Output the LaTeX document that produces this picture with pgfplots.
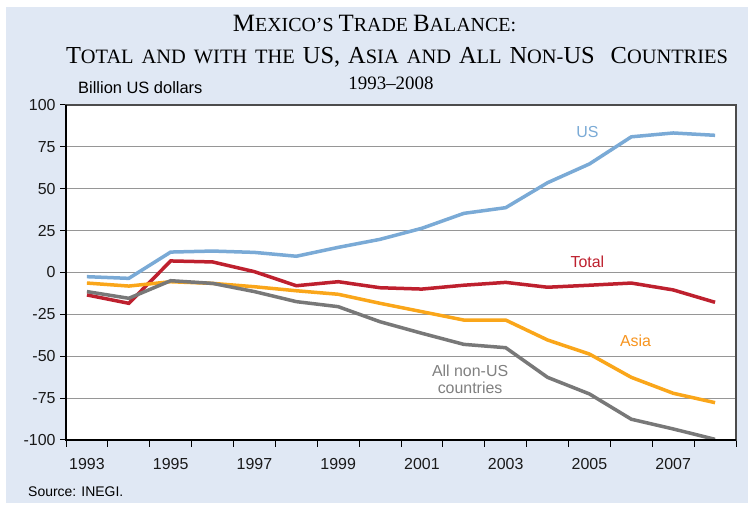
\documentclass[border=0pt]{standalone}
\usepackage{pgfplots}
\pgfplotsset{compat=1.18}
\usepackage{fontspec}
\setmainfont{Liberation Serif}
\newfontfamily\arial{Liberation Sans}
\definecolor{bgblue}{RGB}{224,232,244}
\definecolor{usblue}{RGB}{122,170,214}
\definecolor{totred}{RGB}{190,32,46}
\definecolor{asiaor}{RGB}{250,166,26}
\definecolor{asiatxt}{RGB}{247,148,30}
\definecolor{nongray}{RGB}{120,120,120}
\definecolor{nontxt}{RGB}{128,128,128}
\definecolor{gridgray}{RGB}{150,150,150}
\newcommand{\BC}[1]{{\fontsize{25}{27}\selectfont #1}}
\newcommand{\SC}[1]{{\fontsize{20}{22}\selectfont #1}}
\newcommand{\BCb}[1]{{\fontsize{24.5}{26}\selectfont #1}}
\newcommand{\SCb}[1]{{\fontsize{20.5}{22}\selectfont #1}}
\pgfplotstableread{
year us total asia nonus
1993 -2.5 -13.4 -6.3 -11.4
1994 -3.5 -18.4 -8.1 -15.4
1995 12.2 6.9 -5.5 -4.9
1996 12.8 6.3 -6.5 -6.5
1997 12.0 0.5 -8.5 -11.4
1998 9.7 -7.9 -10.9 -17.4
1999 15.0 -5.5 -13.0 -20.4
2000 19.8 -9.1 -18.4 -29.4
2001 26.4 -9.9 -23.4 -36.3
2002 35.3 -7.6 -28.4 -42.9
2003 38.7 -5.9 -28.4 -44.9
2004 53.6 -8.8 -40.3 -62.6
2005 64.8 -7.6 -48.7 -72.5
2006 81.0 -6.3 -62.6 -87.6
2007 83.3 -10.4 -72.1 -93.4
2008 81.9 -17.8 -77.7 -99.6
}\trade
\begin{document}
\begin{tikzpicture}
\path[use as bounding box] (0,0) rectangle (748bp,507bp);
\fill[bgblue] (6bp,4bp) rectangle (748bp,500bp);
\node[font=\arial\fontsize{16.5}{18}\selectfont, anchor=base west, inner sep=0pt] at (78bp,413.5bp) {Billion US dollars};
\node[font=\arial\fontsize{14}{16}\selectfont, anchor=west, inner sep=0pt] at (28bp,15bp) {Source: INEGI.};
\node[anchor=base, inner sep=0pt, font=\fontsize{20}{22}\selectfont] at (374.5bp,475.3bp) {\BC{M}\SC{EXICO'S} \BC{T}\SC{RADE} \BC{B}\SC{ALANCE:}};
\node[anchor=base, inner sep=0pt, font=\fontsize{20.5}{22}\selectfont] at (397bp,443.5bp) {\makebox[662bp][s]{\BCb{T}\SCb{OTAL} \SCb{AND} \SCb{WITH} \SCb{THE} \BCb{US,} \BCb{A}\SCb{SIA} \SCb{AND} \BCb{A}\SCb{LL} \BCb{N}\SCb{ON-}\BCb{US}\ \ \BCb{C}\SCb{OUNTRIES}}};
\node[font=\fontsize{19}{21}\selectfont, anchor=base, inner sep=0pt] at (391bp,417bp) {1993--2008};
\begin{axis}[
  at={(66bp,67bp)}, anchor=south west,
  scale only axis, width=670bp, height=335bp,
  xmin=1992.5, xmax=2008.5, ymin=-100, ymax=100,
  axis background/.style={fill=white},
  axis line style={draw=black!70, line width=1.2bp},
  xtick={1993,1995,...,2007},
  minor xtick={1992.5,1993.5,...,2008.5},
  ytick={-100,-75,...,100},
  yticklabels={-100,-75,-50,-25,0,25,50,75,100},
  xticklabels={1993,1995,1997,1999,2001,2003,2005,2007},
  tick pos=left, tick align=outside,
  major tick length=6bp, minor tick length=7bp,
  x tick style={draw=none},
  minor x tick style={draw=black, line width=1bp},
  y tick style={draw=black, line width=1bp},
  ymajorgrids, grid style={draw=gridgray, line width=1bp},
  ticklabel style={font=\arial\fontsize{16}{18}\selectfont, text=black!90},
  xticklabel style={yshift=-9bp},
  yticklabel style={xshift=-1bp},
  clip=false,
]
\addplot[usblue, line width=3.5bp] table[x=year, y=us] {\trade};
\addplot[totred, line width=3.5bp] table[x=year, y=total] {\trade};
\addplot[asiaor, line width=3.5bp] table[x=year, y=asia] {\trade};
\addplot[nongray, line width=3.5bp] table[x=year, y=nonus] {\trade};
\draw[black, line width=2bp] (rel axis cs:0,1) -- (rel axis cs:0,0) -- (rel axis cs:1,0);
\node[font=\arial\fontsize{16}{18}\selectfont, text=usblue] at (axis cs:2004.95,84) {US};
\node[font=\arial\fontsize{16}{18}\selectfont, text=totred] at (axis cs:2004.95,6.3) {Total};
\node[font=\arial\fontsize{16}{18}\selectfont, text=asiatxt] at (axis cs:2006.1,-41) {Asia};
\node[font=\arial\fontsize{16}{18}\selectfont, text=nontxt, align=center] at (axis cs:2002.15,-63.6) {All non-US\\[-1bp]countries};
\end{axis}
\end{tikzpicture}
\end{document}
